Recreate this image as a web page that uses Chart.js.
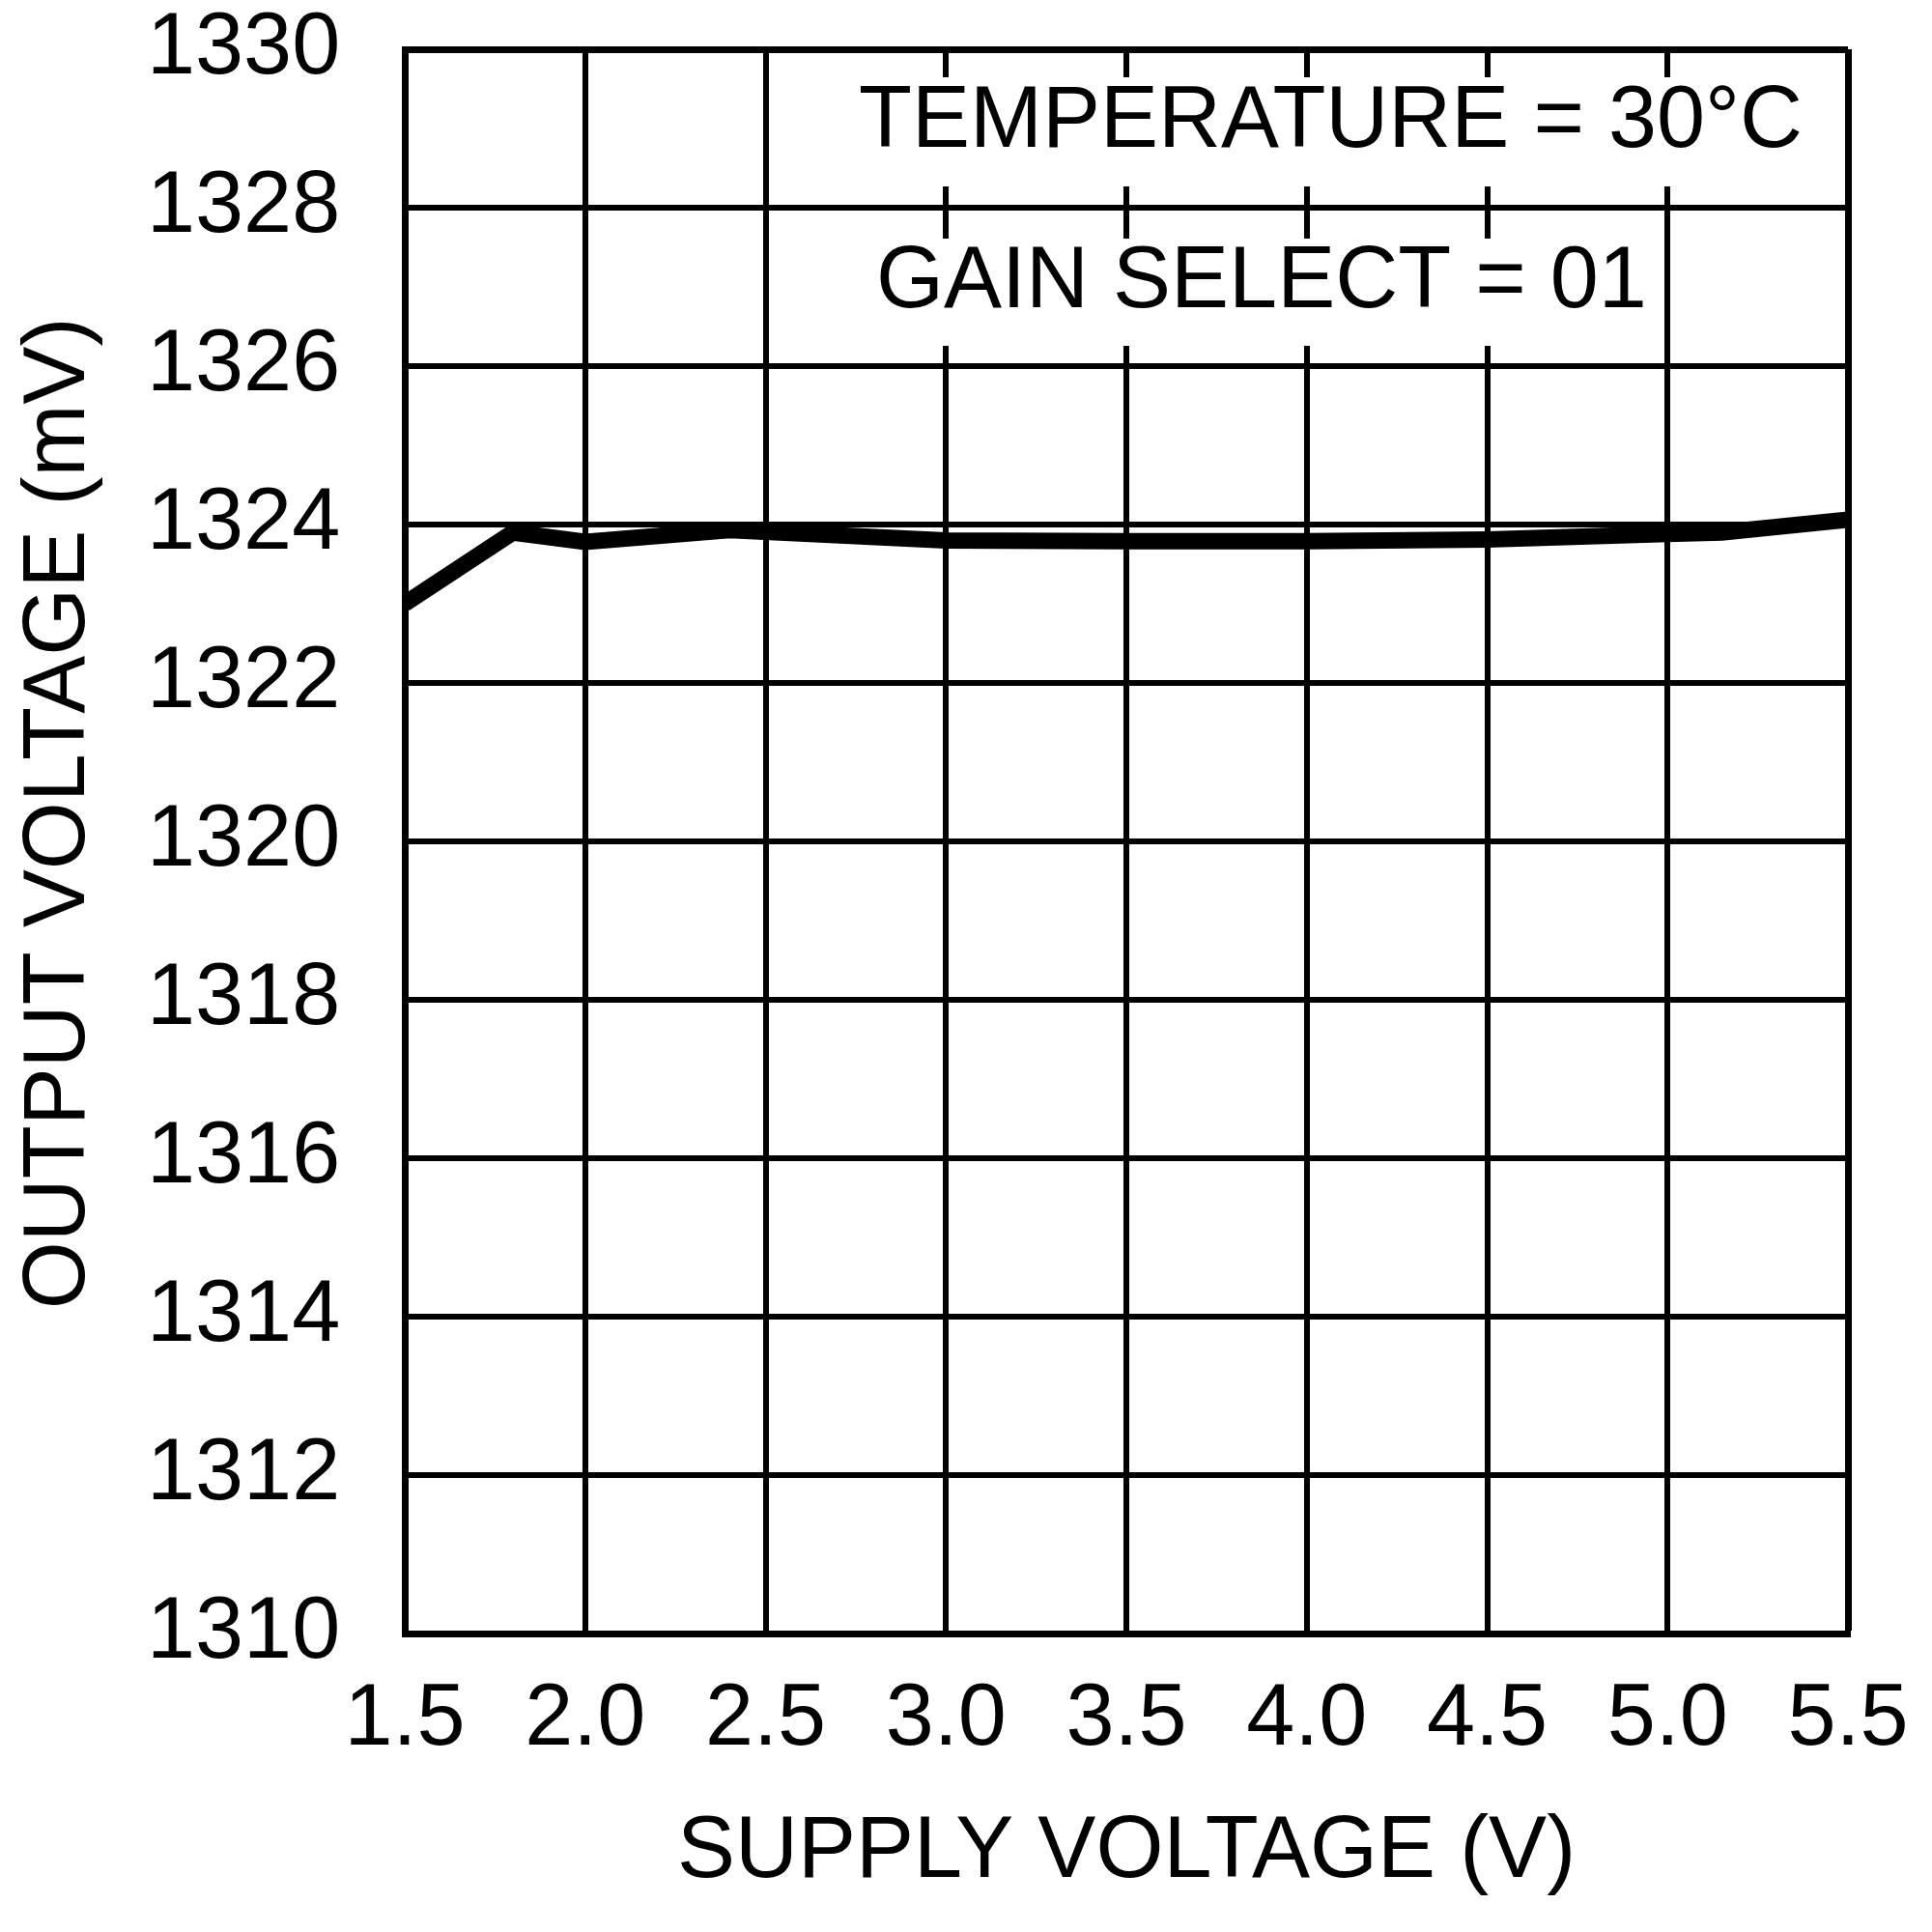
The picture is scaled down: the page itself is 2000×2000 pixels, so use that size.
<!DOCTYPE html>
<html>
<head>
<meta charset="utf-8">
<script src="https://cdn.jsdelivr.net/npm/chart.js@4.4.1/dist/chart.umd.min.js"></script>
<style>
  html, body { margin: 0; padding: 0; background: #fff; }
  #wrap { width: 2000px; height: 2000px; }
</style>
</head>
<body>
<div id="wrap"><canvas id="chart" width="2000" height="2000"></canvas></div>
<script>
// Output voltage vs supply voltage
const supplyV = [1.5, 1.8, 2.0, 2.4, 3.0, 3.5, 4.0, 4.5, 5.0, 5.15, 5.5];
const outputMv = [1323.0, 1323.9, 1323.78, 1323.93, 1323.8, 1323.79, 1323.79, 1323.81, 1323.88, 1323.9, 1324.06];

const xTicks = [1.5, 2.0, 2.5, 3.0, 3.5, 4.0, 4.5, 5.0, 5.5];
const xTickLabels = ['1.5', '2.0', '2.5', '3.0', '3.5', '4.0', '4.5', '5.0', '5.5'];
const yTicks = [1310, 1312, 1314, 1316, 1318, 1320, 1322, 1324, 1326, 1328, 1330];

const xTitle = 'SUPPLY VOLTAGE (V)';
const yTitle = 'OUTPUT VOLTAGE (mV)';
const notes = ['TEMPERATURE = 30°C', 'GAIN SELECT = 01'];

const FONT = '"Liberation Sans", Arial, Helvetica, sans-serif';

// note boxes (white backing that breaks the grid) + rotated y title
const notesPlugin = {
  id: 'notes',
  beforeDatasetsDraw(chart) {
    const c = chart.ctx;
    const boxes = [
      { x0: 862, x1: 1895, y0: 80, y1: 193, tx: 889, ty: 152 },
      { x0: 880, x1: 1712, y0: 247, y1: 358, tx: 907, ty: 318 },
    ];
    c.save();
    c.font = '90px ' + FONT;
    c.textAlign = 'left';
    c.textBaseline = 'alphabetic';
    boxes.forEach((b, i) => {
      c.fillStyle = '#fff';
      c.fillRect(b.x0, b.y0, b.x1 - b.x0, b.y1 - b.y0);
      c.fillStyle = '#000';
      c.fillText(notes[i], b.tx, b.ty);
    });
    c.restore();
  },
  afterDraw(chart) {
    const c = chart.ctx;
    c.save();
    c.translate(62, 842);
    c.rotate(-Math.PI / 2);
    c.font = '90px ' + FONT;
    c.fillStyle = '#000';
    c.textAlign = 'center';
    c.textBaseline = 'middle';
    c.fillText(yTitle, 0, 0);
    c.restore();
  }
};

new Chart(document.getElementById('chart'), {
  type: 'line',
  data: {
    datasets: [{
      data: supplyV.map((v, i) => ({ x: v, y: outputMv[i] })),
      borderColor: '#000',
      borderWidth: 17,
      borderJoinStyle: 'miter',
      borderCapStyle: 'butt',
      pointRadius: 0,
      tension: 0,
      fill: false,
    }]
  },
  options: {
    responsive: false,
    animation: false,
    devicePixelRatio: 1,
    // tick padding leaks into the layout, so labels are placed with
    // crossAlign / lineHeight instead and padding stays 0
    layout: { padding: { top: 51, right: 87, left: 152, bottom: 0 } },
    plugins: {
      legend: { display: false },
      tooltip: { enabled: false },
    },
    scales: {
      x: {
        type: 'linear',
        min: 1.5,
        max: 5.5,
        afterBuildTicks: (scale) => { scale.ticks = xTicks.map(v => ({ value: v })); },
        afterFit: (scale) => { scale.height = 309; },
        ticks: {
          color: '#000',
          font: { family: FONT, size: 90, lineHeight: 2 },
          padding: 0,
          maxRotation: 0,
          autoSkip: false,
          callback: (val, i) => xTickLabels[i],
        },
        grid: {
          color: '#000',
          drawTicks: false,
          lineWidth: (ctx) => (ctx.index === xTicks.length - 1 ? 7 : 6),
        },
        border: { display: true, color: '#000', width: 7 },
        title: {
          display: true,
          text: xTitle,
          color: '#000',
          font: { family: FONT, size: 90 },
          padding: { top: 0, bottom: 28 },
        },
      },
      y: {
        min: 1310,
        max: 1330,
        afterBuildTicks: (scale) => { scale.ticks = yTicks.map(v => ({ value: v })); },
        afterFit: (scale) => { scale.width = 419 - 152; },
        ticks: {
          color: '#000',
          font: { family: FONT, size: 90, lineHeight: 1 },
          padding: 0,
          crossAlign: 'far',
          autoSkip: false,
          callback: (val) => String(val),
        },
        grid: {
          color: '#000',
          drawTicks: false,
          lineWidth: (ctx) => (ctx.index === yTicks.length - 1 ? 7 : 6),
        },
        border: { display: true, color: '#000', width: 7 },
        title: { display: false },
      }
    }
  },
  plugins: [notesPlugin]
});
</script>
</body>
</html>
